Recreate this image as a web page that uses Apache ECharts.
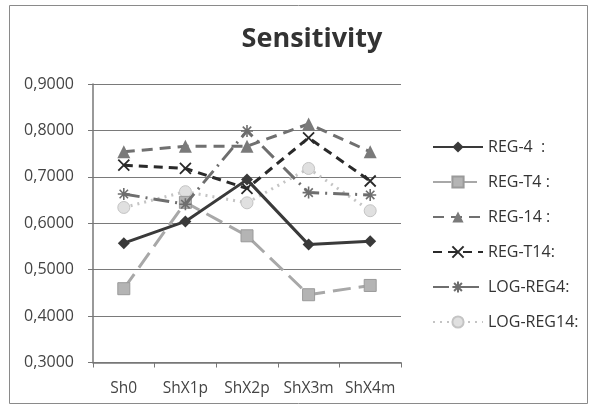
<!DOCTYPE html>
<html><head><meta charset="utf-8">
<script src="https://cdn.jsdelivr.net/npm/echarts@6/dist/echarts.min.js"></script>
<style>html,body{margin:0;padding:0;background:#fff}#c{width:592px;height:408px}</style>
</head><body><div id="c"></div>
<script>
const categories = ['Sh0', 'ShX1p', 'ShX2p', 'ShX3m', 'ShX4m'];
const seriesNames = ['REG-4  :', 'REG-T4 :', 'REG-14 :', 'REG-T14:', 'LOG-REG4:', 'LOG-REG14:'];
const reg4 = [0.557, 0.604, 0.694, 0.554, 0.561];
const regT4 = [0.459, 0.645, 0.573, 0.446, 0.466];
const reg14 = [0.754, 0.766, 0.766, 0.814, 0.754];
const regT14 = [0.725, 0.718, 0.675, 0.784, 0.691];
const logReg4 = [0.663, 0.641, 0.799, 0.666, 0.661];
const logReg14 = [0.634, 0.668, 0.644, 0.718, 0.627];
const yTicks = [0.3, 0.4, 0.5, 0.6, 0.7, 0.8, 0.9];

const xSym = 'path://M0,0L10,10M10,0L0,10';
const starSym = 'path://M5,0L5,10M0,5L10,5M1.5,1.5L8.5,8.5M8.5,1.5L1.5,8.5';
const font = "'Open Sans', 'Liberation Sans', sans-serif";

const chart = echarts.init(document.getElementById('c'), null, {renderer: 'canvas'});
chart.setOption({
  animation: false,
  backgroundColor: '#fff',
  title: {
    text: 'Sensitivity', left: 307, top: 21, textAlign: 'center',
    textStyle: {fontFamily: font, fontSize: 27, fontWeight: 'bold', color: '#333'}
  },
  graphic: [{
    type: 'rect', shape: {x: 9.5, y: 5.5, width: 578, height: 398},
    style: {fill: 'none', stroke: '#8a8a8a', lineWidth: 1}, silent: true
  }],
  legend: {
    orient: 'vertical', left: 427, top: 134, itemWidth: 50, itemHeight: 14, itemGap: 19,
    textStyle: {fontFamily: font, fontSize: 16, color: '#333'},
    data: seriesNames
  },
  grid: {left: 93, right: 191, top: 84, bottom: 45.5},
  xAxis: {
    type: 'category', data: categories, boundaryGap: true,
    axisLine: {lineStyle: {color: '#777', width: 1.5}},
    axisTick: {show: true, length: 5, inside: false, lineStyle: {color: '#777'}},
    axisLabel: {fontFamily: font, fontSize: 15.5, color: '#444', margin: 18, interval: 0, hideOverlap: false}
  },
  yAxis: {
    type: 'value', min: 0.3, max: 0.9, interval: 0.1,
    axisLine: {show: true, lineStyle: {color: '#777', width: 1.5}},
    axisTick: {show: true, length: 5, lineStyle: {color: '#777'}},
    splitLine: {lineStyle: {color: '#7a7a7a', width: 1.2}},
    axisLabel: {fontFamily: font, fontSize: 16, color: '#444', margin: 19,
      formatter: v => v.toFixed(4).replace('.', ',')}
  },
  series: [
    {name: seriesNames[0], type: 'line', data: reg4, symbol: 'diamond', symbolSize: 12,
     lineStyle: {color: '#3a3a3a', width: 3}, itemStyle: {color: '#3a3a3a'}, z: 6},
    {name: seriesNames[1], type: 'line', data: regT4, symbol: 'rect', symbolSize: 12,
     lineStyle: {color: '#a8a8a8', width: 3, type: [18, 8]}, itemStyle: {color: '#b4b4b4', borderColor: '#9a9a9a', borderWidth: 1}, z: 3},
    {name: seriesNames[2], type: 'line', data: reg14, symbol: 'triangle', symbolSize: 13,
     lineStyle: {color: '#707070', width: 3, type: [11, 7]}, itemStyle: {color: '#7a7a7a'}, z: 4},
    {name: seriesNames[3], type: 'line', data: regT14, symbol: xSym, symbolSize: 11,
     lineStyle: {color: '#2a2a2a', width: 3, type: [9, 6]}, itemStyle: {color: 'rgba(0,0,0,0)', borderColor: '#2a2a2a', borderWidth: 1.8}, z: 5},
    {name: seriesNames[4], type: 'line', data: logReg4, symbol: starSym, symbolSize: 12,
     lineStyle: {color: '#6e6e6e', width: 3, type: [16, 6, 2, 6]}, itemStyle: {color: 'rgba(0,0,0,0)', borderColor: '#6e6e6e', borderWidth: 1.6}, z: 4},
    {name: seriesNames[5], type: 'line', data: logReg14, symbol: 'circle', symbolSize: 12,
     lineStyle: {color: '#c4c4c4', width: 3, type: [2, 5]}, itemStyle: {color: '#e0e0e0', borderColor: '#c4c4c4', borderWidth: 1}, z: 2}
  ]
});
</script></body></html>
